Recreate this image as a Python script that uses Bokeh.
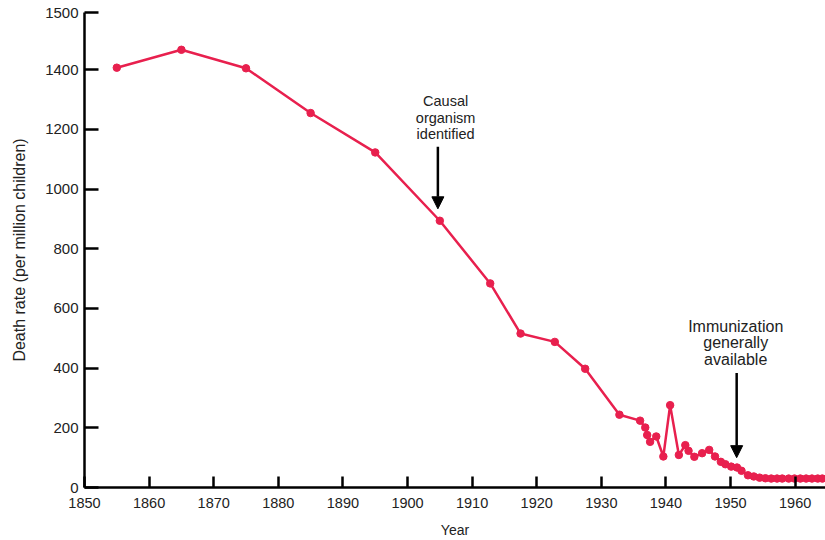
from bokeh.plotting import figure
from bokeh.models import Range1d, FixedTicker, Arrow, NormalHead
from bokeh.core.properties import value
from bokeh.embed import file_html
from bokeh.resources import INLINE

# ---- data ----
years = [1855, 1865, 1875, 1885, 1895, 1905, 1912.8, 1917.5, 1922.8, 1927.5,
         1932.8, 1936.0, 1936.8, 1937.1, 1937.55, 1938.5, 1939.6, 1940.65,
         1942.0, 1943.0, 1943.5, 1944.4, 1945.6, 1946.7, 1947.6, 1948.5,
         1949.2, 1950.1, 1951.0, 1951.7, 1952.7, 1953.6, 1954.5, 1955.4,
         1956.3, 1957.2, 1958.0, 1959.0, 1959.9, 1960.8, 1961.7, 1962.6,
         1963.5, 1964.2]
death_rate = [1407, 1467, 1405, 1255, 1123, 894, 684, 516, 488, 398,
              244, 224, 201, 176, 153, 171, 104, 276,
              109, 142, 123, 103, 115, 126, 104, 86,
              78, 70, 67, 56, 41, 37, 33, 31,
              30, 30, 30, 30, 30, 30, 30, 30,
              30, 30]

x_ticks = [1850, 1860, 1870, 1880, 1890, 1900, 1910, 1920, 1930, 1940, 1950, 1960]
y_ticks = [0, 200, 400, 600, 800, 1000, 1200, 1400, 1592]
y_tick_labels = ["0", "200", "400", "600", "800", "1000", "1200", "1400", "1500"]

ann1_lines = ["Causal", "organism", "identified"]
ann1_year = 1904.7
ann1_text_year = 1905.9
ann1_text_y = [1295, 1240, 1185]
ann1_arrow = (1142, 934)

ann2_lines = ["Immunization", "generally", "available"]
ann2_year = 1950.95
ann2_text_year = 1950.8
ann2_text_y = [541, 485, 429]
ann2_arrow = (384, 100)

RED = "#E8204E"
FONT = "Liberation Sans"
TXT = "#222222"

p = figure(width=825, height=540,
           x_range=Range1d(1850, 1964.7), y_range=Range1d(0, 1592),
           output_backend="svg", toolbar_location=None,
           min_border_left=84, min_border_right=0,
           min_border_top=12, min_border_bottom=53)
p.outline_line_color = None
p.xgrid.grid_line_color = None
p.ygrid.grid_line_color = None
p.background_fill_color = "white"
p.border_fill_color = "white"

# axes
for ax in (p.xaxis[0], p.yaxis[0]):
    ax.axis_line_color = "black"
    ax.axis_line_width = 2.5
    ax.major_tick_line_color = "black"
    ax.major_tick_line_width = 2.5
    ax.major_tick_out = 0
    ax.minor_tick_line_color = None
    ax.major_label_text_font = FONT
    ax.major_label_text_color = TXT
    ax.axis_label_text_font = FONT
    ax.axis_label_text_font_style = "normal"
    ax.axis_label_text_color = TXT

p.xaxis.ticker = FixedTicker(ticks=x_ticks)
p.xaxis.major_tick_in = 11
p.xaxis.major_label_standoff = 10
p.xaxis.major_label_text_font_size = "14.5px"
p.xaxis.axis_label = "Year"
p.xaxis.axis_label_text_font_size = "14px"
p.xaxis.axis_label_standoff = 11

p.yaxis.ticker = FixedTicker(ticks=y_ticks)
p.yaxis.major_label_overrides = {t: lab for t, lab in zip(y_ticks, y_tick_labels)}
p.yaxis.major_tick_in = 14
p.yaxis.major_label_standoff = 6
p.yaxis.major_label_text_font_size = "15px"
p.yaxis.axis_label = "Death rate (per million children)"
p.yaxis.axis_label_text_font_size = "16px"
p.yaxis.axis_label_standoff = 14

# data
p.line(years, death_rate, line_color=RED, line_width=2.5)
p.scatter(years, death_rate, size=7.5, fill_color=RED, line_color=RED)

# annotations
p.text(x=[ann1_text_year] * 3, y=ann1_text_y, text=ann1_lines,
       text_font=value(FONT), text_font_size="14.5px", text_color=TXT,
       text_align="center", text_baseline="middle")
p.text(x=[ann2_text_year] * 3, y=ann2_text_y, text=ann2_lines,
       text_font=value(FONT), text_font_size="16px", text_color=TXT,
       text_align="center", text_baseline="middle")

for yr, (y0, y1) in ((ann1_year, ann1_arrow), (ann2_year, ann2_arrow)):
    p.add_layout(Arrow(end=NormalHead(size=12, fill_color="black", line_color="black"),
                       x_start=yr, y_start=y0, x_end=yr, y_end=y1,
                       line_color="black", line_width=2.5))

open("out.html", "w").write(file_html(p, INLINE))
